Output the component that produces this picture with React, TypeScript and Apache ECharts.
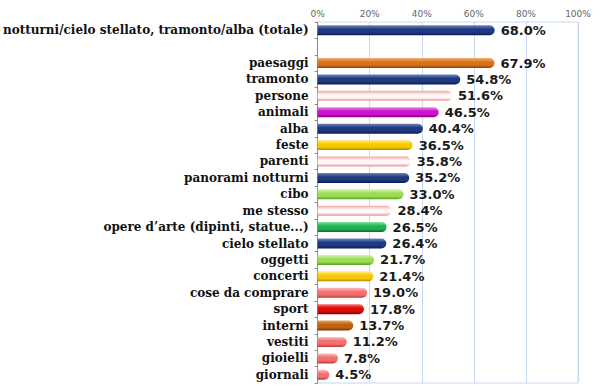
import React, { useEffect, useRef } from "react";
import * as echarts from "echarts";

const categories = [
  "notturni/cielo stellato, tramonto/alba (totale)",
  "",
  "paesaggi",
  "tramonto",
  "persone",
  "animali",
  "alba",
  "feste",
  "parenti",
  "panorami notturni",
  "cibo",
  "me stesso",
  "opere d’arte (dipinti, statue...)",
  "cielo stellato",
  "oggetti",
  "concerti",
  "cose da comprare",
  "sport",
  "interni",
  "vestiti",
  "gioielli",
  "giornali",
];

const values: (number | null)[] = [
  68.0, null, 67.9, 54.8, 51.6, 46.5, 40.4, 36.5, 35.8, 35.2, 33.0, 28.4, 26.5,
  26.4, 21.7, 21.4, 19.0, 17.8, 13.7, 11.2, 7.8, 4.5,
];

const colorKeys = [
  "navy", "navy", "orange", "navy", "pale", "magenta", "navy", "yellow", "pale",
  "navy", "lime", "pale", "green", "navy", "lime", "yellow", "salmon", "red",
  "brown", "salmon", "salmon", "salmon",
];

const xTicks = [0, 20, 40, 60, 80, 100];

const palettes: Record<string, [string, string, string]> = {
  navy: ["#6f86c4", "#1f3a80", "#0b1d4d"],
  orange: ["#f3b070", "#d8721a", "#8a4005"],
  pale: ["#f2a8a8", "#fff8f8", "#e89090"],
  magenta: ["#f080f0", "#cc10cc", "#7a007a"],
  yellow: ["#fff090", "#f6c800", "#b08a00"],
  lime: ["#d6f5a8", "#99dd55", "#5e9a20"],
  green: ["#80e0a0", "#20b050", "#0b6a2a"],
  salmon: ["#ffc0c0", "#f27070", "#b83a3a"],
  red: ["#ff7070", "#dd0a0a", "#880000"],
  brown: ["#e8a060", "#c0600f", "#743505"],
};

function grad(key: string) {
  const [a, b, c] = palettes[key];
  return new echarts.graphic.LinearGradient(0, 0, 0, 1, [
    { offset: 0, color: a },
    { offset: 0.4, color: b },
    { offset: 0.7, color: b },
    { offset: 1, color: c },
  ]);
}

export default function App() {
  const ref = useRef<HTMLDivElement>(null);
  useEffect(() => {
    if (!ref.current) return;
    const chart = echarts.init(ref.current, null, { renderer: "svg" });
    chart.setOption({
      animation: false,
      grid: {
        left: 316,
        right: 22,
        top: 22,
        bottom: 5,
        show: true,
        borderColor: "#c6d9f1",
        borderWidth: 1,
      },
      xAxis: {
        type: "value",
        position: "top",
        min: 0,
        max: 100,
        interval: 20,
        axisLine: { show: false },
        axisTick: { show: false },
        splitLine: { lineStyle: { color: "#c6d9f1", width: 1 } },
        axisLabel: {
          formatter: (v: number) => (xTicks.includes(v) ? v + "%" : ""),
          color: "#666",
          fontFamily: "DejaVu Sans",
          fontSize: 9,
          margin: 4,
        },
      },
      yAxis: {
        type: "category",
        inverse: true,
        data: categories,
        axisLine: { show: true, lineStyle: { color: "#8c8c8c", width: 1 } },
        axisTick: { show: true, length: 3, lineStyle: { color: "#8c8c8c" } },
        axisLabel: {
          color: "#111",
          fontFamily: "DejaVu Serif",
          fontWeight: "bold",
          fontSize: 12,
          margin: 9,
          interval: 0,
        },
      },
      series: [
        {
          type: "bar",
          barWidth: 10,
          data: values.map((v, i) => ({
            value: v,
            itemStyle: {
              color: grad(colorKeys[i]),
              borderRadius: [0, 5, 5, 0],
            },
          })),
          label: {
            show: true,
            position: "right",
            distance: 6,
            formatter: (p: any) =>
              p.value == null ? "" : Number(p.value).toFixed(1) + "%",
            color: "#1a1a1a",
            fontFamily: "DejaVu Sans",
            fontWeight: "bold",
            fontSize: 13,
          },
        },
      ],
    });
    return () => chart.dispose();
  }, []);
  return <div ref={ref} style={{ width: 600, height: 388, position: "absolute", left: 0, top: 0 }} />;
}
